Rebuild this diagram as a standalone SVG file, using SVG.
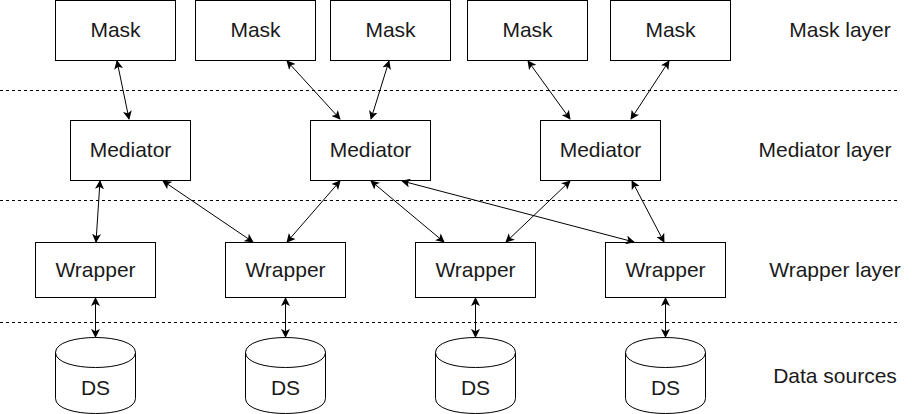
<svg xmlns="http://www.w3.org/2000/svg" width="921" height="414" viewBox="0 0 921 414">
<style>
.box{fill:#fff;stroke:#000;stroke-width:1}
.t{font-family:"Liberation Sans",Arial,sans-serif;font-size:21px;fill:#1a1a1a;text-anchor:middle}
.lbl{font-family:"Liberation Sans",Arial,sans-serif;font-size:21px;fill:#1a1a1a;text-anchor:middle}
.dash{stroke:#000;stroke-width:1;stroke-dasharray:3 3;fill:none}
.c{stroke:#000;stroke-width:1;fill:none;marker-start:url(#a);marker-end:url(#a)}
</style>
<defs>
<marker id="a" viewBox="0 0 10 10" refX="9" refY="5" markerWidth="9" markerHeight="9" markerUnits="userSpaceOnUse" orient="auto-start-reverse">
<path d="M0,0 L10,5 L0,10 L2.5,5 Z" fill="#000"/>
</marker>
</defs>
<rect width="921" height="414" fill="#fff"/>
<g id="layers">
<line class="dash" x1="0" y1="90.5" x2="900" y2="90.5"/>
<line class="dash" x1="0" y1="200.5" x2="900" y2="200.5"/>
<line class="dash" x1="0" y1="322.5" x2="900" y2="322.5"/>
<text class="lbl" x="840" y="37">Mask layer</text>
<text class="lbl" x="825" y="157">Mediator layer</text>
<text class="lbl" x="835" y="277">Wrapper layer</text>
<text class="lbl" x="835" y="383">Data sources</text>
</g>
<g id="mask1"><rect class="box" x="55.5" y="0.5" width="120" height="60"/><text class="t" x="115.5" y="37">Mask</text></g>
<g id="mask2"><rect class="box" x="195.5" y="0.5" width="120" height="60"/><text class="t" x="255.5" y="37">Mask</text></g>
<g id="mask3"><rect class="box" x="330.5" y="0.5" width="120" height="60"/><text class="t" x="390.5" y="37">Mask</text></g>
<g id="mask4"><rect class="box" x="467.5" y="0.5" width="120" height="60"/><text class="t" x="527.5" y="37">Mask</text></g>
<g id="mask5"><rect class="box" x="610.5" y="0.5" width="120" height="60"/><text class="t" x="670.5" y="37">Mask</text></g>
<g id="mediator1"><rect class="box" x="70.5" y="120.5" width="120" height="60"/><text class="t" x="130.5" y="157">Mediator</text></g>
<g id="mediator2"><rect class="box" x="310.5" y="120.5" width="120" height="60"/><text class="t" x="370.5" y="157">Mediator</text></g>
<g id="mediator3"><rect class="box" x="540.5" y="120.5" width="120" height="60"/><text class="t" x="600.5" y="157">Mediator</text></g>
<g id="wrapper1"><rect class="box" x="35.5" y="242.5" width="120" height="55"/><text class="t" x="95.5" y="277">Wrapper</text></g>
<g id="wrapper2"><rect class="box" x="225.5" y="242.5" width="120" height="55"/><text class="t" x="285.5" y="277">Wrapper</text></g>
<g id="wrapper3"><rect class="box" x="415.5" y="242.5" width="120" height="55"/><text class="t" x="475.5" y="277">Wrapper</text></g>
<g id="wrapper4"><rect class="box" x="605.5" y="242.5" width="120" height="55"/><text class="t" x="665.5" y="277">Wrapper</text></g>
<g id="ds1" transform="translate(55.5,337.5)"><path class="box" d="M0,15 C0,-5 80,-5 80,15 L80,61 C80,81 0,81 0,61 Z M0,15 C0,35 80,35 80,15"/><text class="t" x="40" y="57">DS</text></g>
<g id="ds2" transform="translate(245.5,337.5)"><path class="box" d="M0,15 C0,-5 80,-5 80,15 L80,61 C80,81 0,81 0,61 Z M0,15 C0,35 80,35 80,15"/><text class="t" x="40" y="57">DS</text></g>
<g id="ds3" transform="translate(435.5,337.5)"><path class="box" d="M0,15 C0,-5 80,-5 80,15 L80,61 C80,81 0,81 0,61 Z M0,15 C0,35 80,35 80,15"/><text class="t" x="40" y="57">DS</text></g>
<g id="ds4" transform="translate(625.5,337.5)"><path class="box" d="M0,15 C0,-5 80,-5 80,15 L80,61 C80,81 0,81 0,61 Z M0,15 C0,35 80,35 80,15"/><text class="t" x="40" y="57">DS</text></g>
<g id="connectors">
<line class="c" x1="117" y1="61" x2="129" y2="119"/>
<line class="c" x1="287" y1="61" x2="340" y2="119"/>
<line class="c" x1="389" y1="61" x2="371" y2="119"/>
<line class="c" x1="528" y1="61" x2="570" y2="119"/>
<line class="c" x1="669" y1="61" x2="631" y2="119"/>
<line class="c" x1="100" y1="181" x2="96" y2="242"/>
<line class="c" x1="163" y1="181" x2="253" y2="242"/>
<line class="c" x1="340" y1="181" x2="287" y2="242"/>
<line class="c" x1="371" y1="181" x2="444" y2="242"/>
<line class="c" x1="402" y1="181" x2="634" y2="242"/>
<line class="c" x1="570" y1="181" x2="506" y2="242"/>
<line class="c" x1="632" y1="181" x2="664" y2="242"/>
<line class="c" x1="95.5" y1="298" x2="95.5" y2="337"/>
<line class="c" x1="285.5" y1="298" x2="285.5" y2="337"/>
<line class="c" x1="475.5" y1="298" x2="475.5" y2="337"/>
<line class="c" x1="665.5" y1="298" x2="665.5" y2="337"/>
</g>
</svg>
